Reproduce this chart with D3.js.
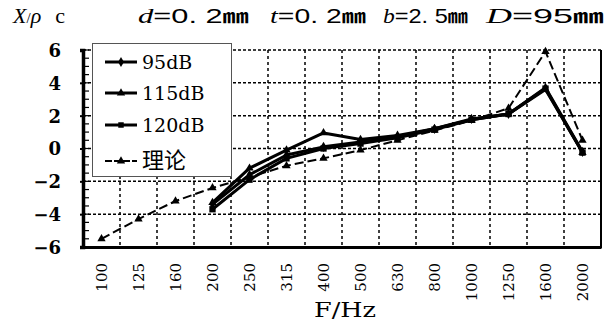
<!DOCTYPE html>
<html>
<head>
<meta charset="utf-8">
<script src="https://cdn.jsdelivr.net/npm/d3@7"></script>
<style>
  body { margin: 0; background: #fff; }
  text { fill: #000; }
</style>
</head>
<body>
<div id="target"></div>
<script>
const width = 606;
const height = 324;

// frequencies (Hz)
const categories = ['100', '125', '160', '200', '250', '315', '400', '500', '630', '800', '1000', '1250', '1600', '2000'];
const yTicks = [-6, -4, -2, 0, 2, 4, 6];

// X/ρc per frequency, null where not measured
const s95 = [null, null, null, -3.4, -1.6, -0.4, 0.1, 0.4, 0.7, 1.2, 1.8, 2.1, 3.7, -0.2];
const s115 = [null, null, null, -3.3, -1.2, -0.1, 0.95, 0.55, 0.8, 1.2, 1.75, 2.1, 3.6, -0.25];
const s120 = [null, null, null, -3.7, -1.9, -0.6, 0.0, 0.3, 0.65, 1.15, 1.75, 2.1, 3.65, -0.25];
const theory = [-5.5, -4.3, -3.2, -2.4, -1.75, -1.05, -0.6, -0.1, 0.5, 1.1, 1.7, 2.45, 5.9, 0.5];

const series = [
  { name: '95dB', values: s95, marker: 'diamond', dash: null, w: 3 },
  { name: '115dB', values: s115, marker: 'triangle', dash: null, w: 3 },
  { name: '120dB', values: s120, marker: 'square', dash: null, w: 3 },
  { name: '理论', values: theory, marker: 'triangle', dash: '9,4', w: 2 },
];

const serif = '"DejaVu Serif", serif';
const plot = { left: 83, right: 601, top: 50, bottom: 247 };

const svg = d3.select('#target').append('svg').attr('width', width).attr('height', height);

const x = d3.scaleBand().domain(categories).range([plot.left, plot.right]).padding(0);
const y = d3.scaleLinear().domain([-6, 6]).range([plot.bottom, plot.top]);
const cx = (c) => x(c) + x.bandwidth() / 2;

// dotted grid
svg.append('g')
  .selectAll('line')
  .data(yTicks.filter((t) => t > -6))
  .enter()
  .append('line')
  .attr('x1', plot.left)
  .attr('x2', plot.right)
  .attr('y1', (d) => y(d))
  .attr('y2', (d) => y(d))
  .attr('stroke', '#000')
  .attr('stroke-width', 1.5)
  .attr('stroke-dasharray', '3,2');

svg.append('g')
  .selectAll('line')
  .data(categories.slice(1))
  .enter()
  .append('line')
  .attr('x1', (d) => x(d))
  .attr('x2', (d) => x(d))
  .attr('y1', plot.top)
  .attr('y2', plot.bottom)
  .attr('stroke', '#000')
  .attr('stroke-width', 1.5)
  .attr('stroke-dasharray', '3,3');

// right border
svg.append('line')
  .attr('x1', plot.right).attr('x2', plot.right)
  .attr('y1', plot.top).attr('y2', plot.bottom + 1)
  .attr('stroke', '#000').attr('stroke-width', 2);

// left axis with minor ticks inside
const yAxis = d3.axisLeft(y).tickValues(yTicks).tickSize(3).tickFormat((d) => (d < 0 ? '\u2212' + Math.abs(d) : d));
const gy = svg.append('g').attr('transform', `translate(${plot.left},0)`).call(yAxis);
gy.attr('font-family', null);
gy.select('.domain').attr('stroke-width', 3.5);
gy.selectAll('.tick line').attr('stroke-width', 2);
gy.selectAll('.tick text')
  .attr('x', -22)
  .attr('dy', '0.36em')
  .style('font-family', serif)
  .style('font-size', '18px')
  .style('font-weight', 'bold');

svg.append('g')
  .selectAll('line')
  .data(d3.range(-6, 6.01, 0.5))
  .enter()
  .append('line')
  .attr('x1', plot.left)
  .attr('x2', plot.left + 6)
  .attr('y1', (d) => y(d))
  .attr('y2', (d) => y(d))
  .attr('stroke', '#000')
  .attr('stroke-width', 1.2);

// bottom axis
const xAxis = d3.axisBottom(x).tickSize(0).tickSizeOuter(0);
const gx = svg.append('g').attr('transform', `translate(0,${plot.bottom})`).call(xAxis);
gx.attr('font-family', null);
gx.select('.domain').attr('stroke-width', 3);
gx.selectAll('.tick text')
  .attr('transform', 'rotate(-90)')
  .attr('x', -16)
  .attr('y', 0)
  .attr('dy', '0.36em')
  .style('text-anchor', 'end')
  .style('font-family', serif)
  .style('font-size', '15px');

svg.append('text')
  .attr('x', 345)
  .attr('y', 317)
  .attr('text-anchor', 'middle')
  .attr('textLength', 62)
  .attr('lengthAdjust', 'spacingAndGlyphs')
  .style('font-family', serif)
  .style('font-size', '20px')
  .text('F/Hz');

// markers
function markerPath(type, size) {
  const sym = type === 'square' ? d3.symbolSquare : type === 'triangle' ? d3.symbolTriangle : d3.symbolDiamond;
  return d3.symbol().type(sym).size(size)();
}

const line = d3.line()
  .defined((d) => d.v !== null)
  .x((d) => cx(d.c))
  .y((d) => y(d.v));

series.forEach((s) => {
  const pts = categories.map((c, i) => ({ c: c, v: s.values[i] }));
  svg.append('path')
    .datum(pts)
    .attr('d', line)
    .attr('fill', 'none')
    .attr('stroke', '#000')
    .attr('stroke-width', s.w)
    .attr('stroke-linejoin', 'round')
    .attr('stroke-dasharray', s.dash);
  svg.append('g')
    .selectAll('path')
    .data(pts.filter((d) => d.v !== null))
    .enter()
    .append('path')
    .attr('transform', (d) => `translate(${cx(d.c)},${y(d.v)})`)
    .attr('d', markerPath(s.marker, s.marker === 'square' ? 40 : 30))
    .attr('fill', '#000');
});

// legend
const legend = svg.append('g');
legend.append('rect')
  .attr('x', 92.5).attr('y', 43.5)
  .attr('width', 139).attr('height', 133)
  .attr('fill', '#fff')
  .attr('stroke', '#555')
  .attr('stroke-width', 1);

series.forEach((s, i) => {
  const ly = [62, 93, 125, 161][i];
  legend.append('line')
    .attr('x1', 105).attr('x2', 137)
    .attr('y1', ly).attr('y2', ly)
    .attr('stroke', '#000')
    .attr('stroke-width', s.w)
    .attr('stroke-dasharray', s.dash ? '7,2' : null);
  legend.append('path')
    .attr('transform', `translate(121,${ly})`)
    .attr('d', markerPath(s.marker, 30))
    .attr('fill', '#000');
  legend.append('text')
    .attr('x', 142)
    .attr('y', ly + 7)
    .style('font-family', s.name === '理论' ? '"Noto Sans CJK SC", sans-serif' : serif)
    .style('font-size', s.name === '理论' ? '22px' : '19px')
    .text(s.name);
});

// title line
const title = svg.append('text')
  .attr('x', 13)
  .attr('y', 23)
  .style('font-family', '"Liberation Serif", serif')
  .style('font-size', '22px');
title.append('tspan').style('font-style', 'italic').text('X');
title.append('tspan').style('font-size', '15px').text('/');
title.append('tspan').style('font-style', 'italic').text('ρ');
title.append('tspan').attr('dx', 14).text('c');

const params = [
  { sym: 'd', val: '0. 2', x: 138, w: 111 },
  { sym: 't', val: '0. 2', x: 270, w: 96 },
  { sym: 'b', val: '2. 5', x: 383, w: 85 },
  { sym: 'D', val: '95', x: 486, w: 118 },
];
params.forEach((p) => {
  const t = svg.append('text')
    .attr('x', p.x)
    .attr('y', 23)
    .attr('textLength', p.w)
    .attr('lengthAdjust', 'spacingAndGlyphs')
    .style('font-size', '21px');
  t.append('tspan').style('font-family', '"Liberation Serif", serif').style('font-style', 'italic').text(p.sym);
  t.append('tspan').style('font-family', '"Liberation Sans", sans-serif').text('=' + p.val);
  t.append('tspan').style('font-family', '"Noto Sans CJK SC", sans-serif').style('font-weight', 'bold').style('font-size', '18px').text('㎜');
});
</script>
</body>
</html>
